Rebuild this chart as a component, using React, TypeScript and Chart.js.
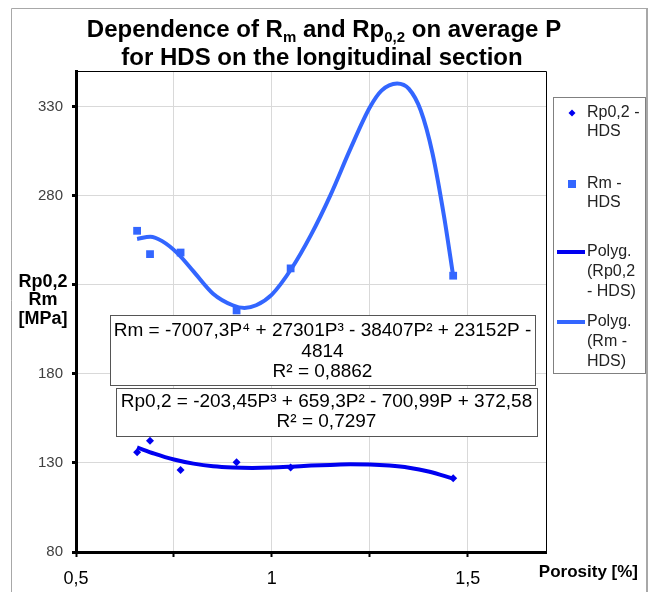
import React, { useEffect, useRef } from 'react';
import { Chart, registerables } from 'chart.js';

Chart.register(...registerables);

// Measured data points (porosity %, MPa)
const porosity = [0.656, 0.689, 0.767, 0.91, 1.048, 1.463];
const rmValues = [260.3, 247.2, 248.1, 215.6, 239.2, 235.1];
const rpValues = [136.0, 142.4, 126.0, 130.4, 127.4, 121.4];

// Trendline curves
const rmTrendP = [0.656, 0.69, 0.72, 0.76, 0.8, 0.85, 0.9, 0.93, 0.96, 1.0, 1.05, 1.1, 1.15, 1.2, 1.25, 1.28, 1.32, 1.35, 1.38, 1.41, 1.44, 1.463];
const rmTrendV = [255.7, 257.0, 254.5, 247.5, 237.5, 225.0, 218.5, 217.0, 218.5, 224.5, 239.0, 258.0, 280.5, 306.0, 329.5, 339.0, 343.0, 340.0, 328.0, 304.0, 268.0, 235.0];
const rpTrendP = [0.656, 0.7, 0.75, 0.8, 0.85, 0.9, 0.95, 1.0, 1.05, 1.1, 1.15, 1.2, 1.25, 1.3, 1.35, 1.4, 1.463];
const rpTrendV = [138.7, 135.2, 131.9, 129.6, 128.1, 127.4, 127.2, 127.4, 127.9, 128.5, 128.9, 129.2, 129.1, 128.5, 127.3, 125.2, 121.2];

const xTickValues = [0.5, 0.75, 1, 1.25, 1.5];
const xLabelValues = [0.5, 1, 1.5];
const yTickValues = [80, 130, 180, 230, 280, 330];
const yLabelValues = [80, 130, 180, 280, 330];

const rmEquation = ['Rm = -7007,3P\u2074 + 27301P\u00b3 - 38407P\u00b2 + 23152P -', '4814', 'R\u00b2 = 0,8862'];
const rpEquation = ['Rp0,2 = -203,45P\u00b3 + 659,3P\u00b2 - 700,99P + 372,58', 'R\u00b2 = 0,7297'];

const legendRp = ['Rp0,2 -', 'HDS'];
const legendRm = ['Rm -', 'HDS'];
const legendRpFit = ['Polyg.', '(Rp0,2', '- HDS)'];
const legendRmFit = ['Polyg.', '(Rm -', 'HDS)'];

const yAxisTitle = ['Rp0,2', 'Rm', '[MPa]'];
const xAxisTitle = 'Porosity [%]';

const RM_COLOR = '#3366FF';
const RP_COLOR = '#0000F0';
const FONT = '"Liberation Sans", Arial, sans-serif';

const fmt = (v: number) => String(v).replace('.', ',');

function drawRich(ctx: CanvasRenderingContext2D, segs: { t: string; size: number; dy?: number }[], cx: number, baseline: number) {
  let total = 0;
  const widths = segs.map((s) => {
    ctx.font = `bold ${s.size}px ${FONT}`;
    const w = ctx.measureText(s.t).width;
    total += w;
    return w;
  });
  let x = cx - total / 2;
  segs.forEach((s, i) => {
    ctx.font = `bold ${s.size}px ${FONT}`;
    ctx.fillText(s.t, x, baseline + (s.dy || 0));
    x += widths[i];
  });
}

const decorPlugin = {
  id: 'decor',
  beforeDraw(chart: any) {
    const ctx = chart.ctx as CanvasRenderingContext2D;
    ctx.save();
    ctx.fillStyle = '#fff';
    ctx.fillRect(0, 0, chart.width, chart.height);
    ctx.strokeStyle = '#a8a8a8';
    ctx.lineWidth = 1;
    ctx.beginPath();
    ctx.moveTo(11.5, 592);
    ctx.lineTo(11.5, 8.5);
    ctx.lineTo(646.5, 8.5);
    ctx.stroke();
    ctx.lineWidth = 2;
    ctx.beginPath();
    ctx.moveTo(647, 8);
    ctx.lineTo(647, 592);
    ctx.stroke();
    ctx.restore();
  },
  afterDatasetsDraw(chart: any) {
    const ctx = chart.ctx as CanvasRenderingContext2D;
    const a = chart.chartArea;
    ctx.save();
    // plot frame top/right
    ctx.strokeStyle = '#000';
    ctx.lineWidth = 1;
    ctx.beginPath();
    ctx.moveTo(a.left, a.top + 0.5);
    ctx.lineTo(a.right + 0.5, a.top + 0.5);
    ctx.lineTo(a.right + 0.5, a.bottom);
    ctx.stroke();

    // equation boxes
    ctx.font = `19px ${FONT}`;
    ctx.textAlign = 'center';
    ctx.textBaseline = 'middle';
    const boxes = [
      { x: 110, y: 315, w: 425, h: 70, lines: rmEquation, ys: [331, 352, 372] },
      { x: 116, y: 388, w: 421, h: 48, lines: rpEquation, ys: [402, 422] },
    ];
    boxes.forEach((b) => {
      ctx.fillStyle = '#fff';
      ctx.fillRect(b.x, b.y, b.w, b.h);
      ctx.strokeStyle = '#555';
      ctx.lineWidth = 1;
      ctx.strokeRect(b.x + 0.5, b.y + 0.5, b.w, b.h);
      ctx.fillStyle = '#000';
      b.lines.forEach((l, i) => ctx.fillText(l, b.x + b.w / 2, b.ys[i]));
    });
    ctx.restore();
  },
  afterDraw(chart: any) {
    const ctx = chart.ctx as CanvasRenderingContext2D;
    ctx.save();
    // Title
    ctx.fillStyle = '#000';
    ctx.textAlign = 'left';
    ctx.textBaseline = 'alphabetic';
    drawRich(ctx, [
      { t: 'Dependence of R', size: 24 },
      { t: 'm', size: 15, dy: 5 },
      { t: ' and Rp', size: 24 },
      { t: '0,2', size: 15, dy: 5 },
      { t: ' on average P', size: 24 },
    ], 324, 37);
    drawRich(ctx, [{ t: 'for HDS on the longitudinal section', size: 24 }], 322, 65);

    // Y axis title
    ctx.font = `bold 18px ${FONT}`;
    ctx.textAlign = 'center';
    ctx.textBaseline = 'middle';
    yAxisTitle.forEach((l, i) => ctx.fillText(l, 43, 282 + i * 18.5));

    // X axis title
    ctx.font = `bold 17px ${FONT}`;
    ctx.textAlign = 'right';
    ctx.fillText(xAxisTitle, 638, 572);

    // Legend
    ctx.strokeStyle = '#808080';
    ctx.lineWidth = 1;
    ctx.strokeRect(553.5, 97.5, 92, 276);
    ctx.font = `16px ${FONT}`;
    ctx.textAlign = 'left';
    ctx.fillStyle = '#222';
    const tx = 587;
    legendRp.forEach((l, i) => ctx.fillText(l, tx, 113 + i * 19));
    legendRm.forEach((l, i) => ctx.fillText(l, tx, 184 + i * 19));
    legendRpFit.forEach((l, i) => ctx.fillText(l, tx, 252 + i * 20));
    legendRmFit.forEach((l, i) => ctx.fillText(l, tx, 322 + i * 20));
    // markers
    ctx.fillStyle = RP_COLOR;
    ctx.beginPath();
    ctx.moveTo(572 - 3.5, 113);
    ctx.lineTo(572, 109.5);
    ctx.lineTo(572 + 3.5, 113);
    ctx.lineTo(572, 116.5);
    ctx.closePath();
    ctx.fill();
    ctx.fillStyle = RM_COLOR;
    ctx.fillRect(568, 180, 8, 8);
    ctx.lineWidth = 4;
    ctx.strokeStyle = RP_COLOR;
    ctx.beginPath();
    ctx.moveTo(557, 252);
    ctx.lineTo(585, 252);
    ctx.stroke();
    ctx.strokeStyle = RM_COLOR;
    ctx.beginPath();
    ctx.moveTo(557, 322);
    ctx.lineTo(585, 322);
    ctx.stroke();
    ctx.restore();
  },
};

export default function App() {
  const ref = useRef<HTMLCanvasElement>(null);
  useEffect(() => {
    if (!ref.current) return;
    const chart = new Chart(ref.current, {
      type: 'scatter',
      data: {
        datasets: [
          {
            label: 'Polyg. (Rm - HDS)',
            data: rmTrendP.map((p, i) => ({ x: p, y: rmTrendV[i] })),
            showLine: true,
            borderColor: RM_COLOR,
            borderWidth: 4,
            pointRadius: 0,
            cubicInterpolationMode: 'monotone',
            order: 3,
          },
          {
            label: 'Polyg. (Rp0,2 - HDS)',
            data: rpTrendP.map((p, i) => ({ x: p, y: rpTrendV[i] })),
            showLine: true,
            borderColor: RP_COLOR,
            borderWidth: 4,
            pointRadius: 0,
            cubicInterpolationMode: 'monotone',
            order: 3,
          },
          {
            label: 'Rm - HDS',
            data: porosity.map((p, i) => ({ x: p, y: rmValues[i] })),
            pointStyle: 'rect',
            pointRadius: 5.5,
            backgroundColor: RM_COLOR,
            borderColor: RM_COLOR,
            borderWidth: 0,
            order: 1,
          },
          {
            label: 'Rp0,2 - HDS',
            data: porosity.map((p, i) => ({ x: p, y: rpValues[i] })),
            pointStyle: 'rectRot',
            pointRadius: 4,
            backgroundColor: RP_COLOR,
            borderColor: RP_COLOR,
            borderWidth: 0,
            order: 1,
          },
        ],
      },
      options: {
        responsive: false,
        animation: false,
        devicePixelRatio: 1,
        layout: { padding: { top: 71, right: 109, left: 0, bottom: 0 } },
        plugins: { legend: { display: false }, title: { display: false }, tooltip: { enabled: false } },
        scales: {
          x: {
            type: 'linear',
            min: 0.5,
            max: 1.7,
            afterBuildTicks: (s: any) => {
              s.ticks = xTickValues.map((v) => ({ value: v }));
            },
            afterFit: (s: any) => {
              s.height = 40;
            },
            grid: { color: '#d9d9d9', lineWidth: 1, tickColor: '#000', tickLength: 5, tickWidth: 2 },
            border: { color: '#000', width: 3 },
            ticks: {
              autoSkip: false,
              maxRotation: 0,
              padding: 11,
              color: '#000',
              font: { family: FONT, size: 18 },
              callback: (v: any) => (xLabelValues.some((l) => Math.abs(l - v) < 1e-6) ? fmt(v) : ''),
            },
          },
          y: {
            type: 'linear',
            min: 80,
            max: 350,
            afterBuildTicks: (s: any) => {
              s.ticks = yTickValues.map((v) => ({ value: v }));
            },
            afterFit: (s: any) => {
              s.width = 76;
            },
            grid: { color: '#d9d9d9', lineWidth: 1, tickColor: '#000', tickLength: 4, tickWidth: 3 },
            border: { color: '#000', width: 3 },
            ticks: {
              padding: 9,
              color: '#404040',
              font: { family: FONT, size: 15 },
              callback: (v: any) => (yLabelValues.includes(v) ? fmt(v) : ''),
            },
          },
        },
      },
      plugins: [decorPlugin],
    } as any);
    return () => chart.destroy();
  }, []);
  return (
    <div style={{ position: 'fixed', left: 0, top: 0, width: 655, height: 592, background: '#fff' }}>
      <canvas ref={ref} width={655} height={592} style={{ display: 'block' }} />
    </div>
  );
}
